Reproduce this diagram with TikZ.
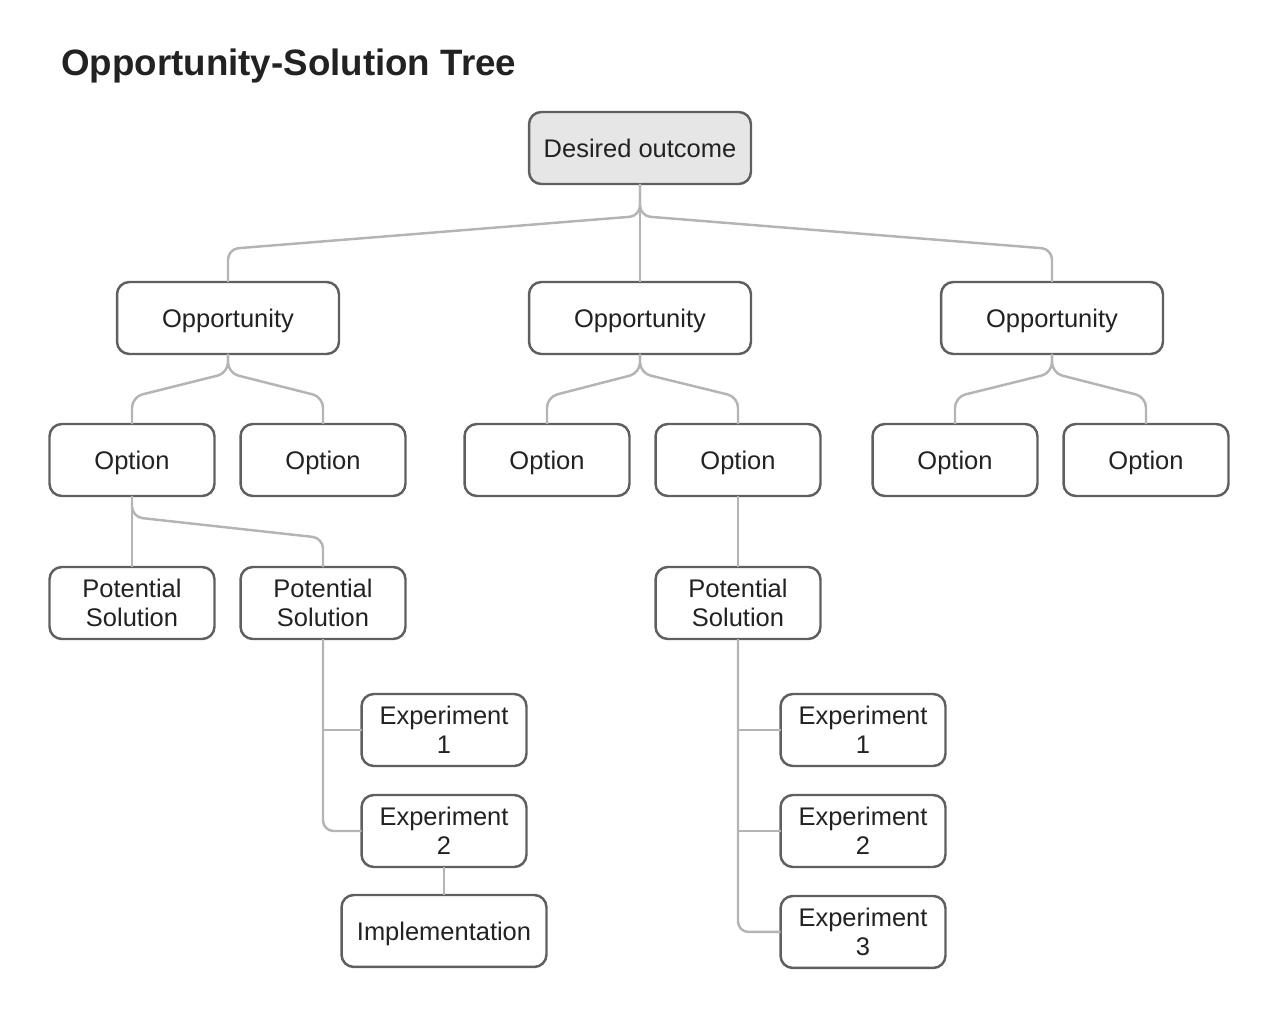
\documentclass[tikz,border=0pt]{standalone}
\usepackage{fontspec}
\setmainfont{Liberation Sans}
\usepackage{tikz}
\usetikzlibrary{positioning,calc}
\definecolor{boxline}{HTML}{5F5F5F}
\definecolor{linkgray}{HTML}{B4B4B4}
\definecolor{rootfill}{HTML}{E6E6E6}
\definecolor{inktext}{HTML}{222222}

\begin{document}
\begin{tikzpicture}[x=0.02cm,y=-0.02cm,
  box/.style={draw=boxline,line width=1.4pt,rounded corners=7pt,fill=white,outer sep=0pt,inner sep=0pt,
    minimum width=3.3cm,minimum height=1.44cm,align=center,text=inktext,font=\fontsize{14.5}{16.5}\selectfont},
  oneline/.style={box,text height=10.4pt,text depth=0pt},
  widebox/.style={oneline,minimum width=4.44cm},
  link/.style={draw=linkgray,line width=1.4pt,rounded corners=6pt}]
 \useasboundingbox (0,0) rectangle (1280,1024);
 \node[anchor=base west,text=inktext,font=\fontsize{20.9}{24}\selectfont\bfseries] (title) at (55,75) {Opportunity-Solution Tree};
 % top two levels
 \node[widebox,fill=rootfill] (root) at (640,148) {Desired outcome};
 \node[widebox] (opp1) at (228,318) {Opportunity};
 \node[widebox] (opp2) at (640,318) {Opportunity};
 \node[widebox] (opp3) at (1052,318) {Opportunity};
 \node[oneline] (opt1) at (132,460) {Option};
 \node[oneline] (opt2) at (323,460) {Option};
 \node[oneline] (opt3) at (547,460) {Option};
 \node[oneline] (opt4) at (738,460) {Option};
 \node[oneline] (opt5) at (955,460) {Option};
 \node[oneline] (opt6) at (1146,460) {Option};
 % solutions and experiments
 \node[box] (ps1) at (132,603) {Potential\\Solution};
 \node[box] (ps2) at (323,603) {Potential\\Solution};
 \node[box] (ps3) at (738,603) {Potential\\Solution};
 \node[box] (lexp1) at (444,730) {Experiment\\1};
 \node[box,below=0.58cm of lexp1] (lexp2) {Experiment\\2};
 \node[oneline,minimum width=4.1cm,below=0.56cm of lexp2] (impl) {Implementation};
 \node[box] (rexp1) at (863,730) {Experiment\\1};
 \node[box,below=0.58cm of rexp1] (rexp2) {Experiment\\2};
 \node[box,below=0.58cm of rexp2] (rexp3) {Experiment\\3};
 % connectors
 \draw[link] (root.south) -- ++(0,32) -- ($(opp1.north)+(0,-33)$) -- (opp1.north);
 \draw[link] (root.south) -- ++(0,32) -- ($(opp3.north)+(0,-33)$) -- (opp3.north);
 \draw[link] (root) -- (opp2);
 \foreach \p/\a/\b in {opp1/opt1/opt2,opp2/opt3/opt4,opp3/opt5/opt6}{
  \draw[link] (\p.south) -- ++(0,19) -- ($(\a.north)+(0,-27)$) -- (\a.north);
  \draw[link] (\p.south) -- ++(0,19) -- ($(\b.north)+(0,-27)$) -- (\b.north);
 }
 \draw[link] (opt1) -- (ps1);
 \draw[link] (opt1.south) -- ++(0,21) -- ($(ps2.north)+(0,-29)$) -- (ps2.north);
 \draw[link] (opt4) -- (ps3);
 \draw[link] (ps2.south) |- (lexp2.west);
 \draw[link] (ps2.south |- lexp1.west) -- (lexp1.west);
 \draw[link] (lexp2) -- (impl);
 \draw[link] (ps3.south) |- (rexp3.west);
 \draw[link] (ps3.south |- rexp1.west) -- (rexp1.west);
 \draw[link] (ps3.south |- rexp2.west) -- (rexp2.west);
\end{tikzpicture}
\end{document}
